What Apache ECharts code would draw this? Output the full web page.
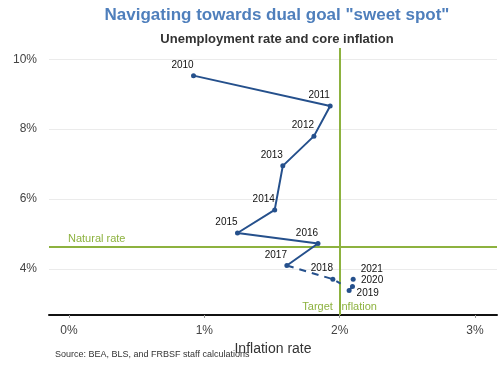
<!DOCTYPE html>
<html><head><meta charset="utf-8">
<script src="https://cdn.jsdelivr.net/npm/echarts@6/dist/echarts.min.js"></script>
<style>html,body{margin:0;padding:0;background:#fff}#c{width:500px;height:365px}</style>
</head><body><div id="c"></div>
<script>
// Data
const years = ['2010','2011','2012','2013','2014','2015','2016','2017'];
const inflation = [0.92, 1.93, 1.81, 1.58, 1.52, 1.245, 1.84, 1.61];
const unemployment = [9.53, 8.66, 7.80, 6.95, 5.69, 5.03, 4.73, 4.10];
const projYears = ['2017','2018',''];
const projInflation = [1.61, 1.95, 2.007];
const projUnemployment = [4.10, 3.71, 3.58];
const lateYears = ['2019','2020'];
const lateInflation = [2.07, 2.095];
const lateUnemployment = [3.39, 3.50];
const lastYears = ['2021'];
const lastInflation = [2.10];
const lastUnemployment = [3.71];
const xTicks = [0, 1, 2, 3];
const yTicks = [4, 6, 8, 10];
const naturalRate = 4.63;
const targetInflation = 2;

const blue = '#25508c';
const green = '#8db23f';
const font = 'Liberation Sans, Arial, sans-serif';

const chart = echarts.init(document.getElementById('c'), null, {renderer:'canvas'});
const yearLabel = (extra) => Object.assign({show:true, position:'top', distance:4, offset:[-11,1], fontSize:10, color:'#111', fontFamily:font}, extra||{});
const lateOffsets = [[0,3],[1,-6]];
chart.setOption({
  animation:false,
  textStyle:{fontFamily:font},
  title:[
    {text:'Navigating towards dual goal "sweet spot"', left:272, textAlign:'center', top:2,
     textStyle:{fontSize:17, fontWeight:'bold', color:'#4f7fbc', fontFamily:font}},
    {text:'Unemployment rate and core inflation', left:272, textAlign:'center', top:28,
     textStyle:{fontSize:13, fontWeight:'bold', color:'#333', fontFamily:font}},
    {text:'Source: BEA, BLS, and FRBSF staff calculations', left:50, top:345,
     textStyle:{fontSize:9, fontWeight:'normal', color:'#333', fontFamily:font}}
  ],
  grid:{left:49, right:3, top:48, bottom:50},
  xAxis:{type:'value', min:-0.148, max:3.163,
    name:'Inflation rate', nameLocation:'middle', nameGap:17,
    nameTextStyle:{fontSize:14, color:'#333', fontFamily:font},
    axisLine:{show:true, onZero:false, lineStyle:{color:'#111', width:2}},
    axisTick:{show:true, length:3, lineStyle:{color:'#999'}, customValues:xTicks},
    axisLabel:{customValues:xTicks, formatter:v=>Math.round(v)+'%', fontSize:12, color:'#444', margin:10, fontFamily:font},
    splitLine:{show:false}},
  yAxis:{type:'value', min:2.686, max:10.32,
    axisLine:{show:false}, axisTick:{show:false},
    axisLabel:{customValues:yTicks, formatter:v=>Math.round(v)+'%', fontSize:12, color:'#444', margin:12, fontFamily:font},
    splitLine:{show:false}},
  series:[
    {type:'line', silent:true, data:[], symbol:'none',
     markLine:{silent:true, symbol:'none', animation:false,
       lineStyle:{color:'#ebebeb', width:1, type:'solid'}, label:{show:false},
       data:yTicks.map(v=>({yAxis:v}))}},
    {type:'line', data:inflation.map((x,i)=>({value:[x,unemployment[i]], label:yearLabel({formatter:years[i]})})),
     lineStyle:{color:blue, width:2}, itemStyle:{color:blue}, symbol:'circle', symbolSize:5, z:5},
    {type:'line', data:projInflation.map((x,i)=>({value:[x,projUnemployment[i]],
        symbolSize: i===1?5:0, label:yearLabel({show:i===1, formatter:projYears[i]})})),
     lineStyle:{color:blue, width:2, type:[7,6]}, itemStyle:{color:blue}, symbol:'circle', z:5},
    {type:'line', data:lateInflation.map((x,i)=>({value:[x,lateUnemployment[i]],
        label:{show:true, position:'right', distance:5, offset:lateOffsets[i], fontSize:10, color:'#111', fontFamily:font, formatter:lateYears[i]}})),
     lineStyle:{color:blue, width:2}, itemStyle:{color:blue}, symbol:'circle', symbolSize:5, z:5},
    {type:'line', data:lastInflation.map((x,i)=>({value:[x,lastUnemployment[i]],
        label:{show:true, position:'right', distance:5, offset:[0,-10], fontSize:10, color:'#111', fontFamily:font, formatter:lastYears[i]}})),
     lineStyle:{color:blue, width:2}, itemStyle:{color:blue}, symbol:'circle', symbolSize:5, showAllSymbol:true, z:5},
    {type:'line', data:[], symbol:'none', z:4,
     markLine:{silent:true, symbol:'none', animation:false,
       lineStyle:{color:green, width:2, type:'solid'},
       data:[
         {yAxis:naturalRate, label:{show:true, position:'insideStartTop', formatter:'Natural rate', color:green, fontSize:11, fontFamily:font, distance:[0,3], padding:[0,0,0,19]}},
         {xAxis:targetInflation, label:{show:true, position:'start', distance:-14, formatter:'Target  inflation', color:green, fontSize:11, fontFamily:font}}
       ]}}
  ]
});
</script></body></html>
